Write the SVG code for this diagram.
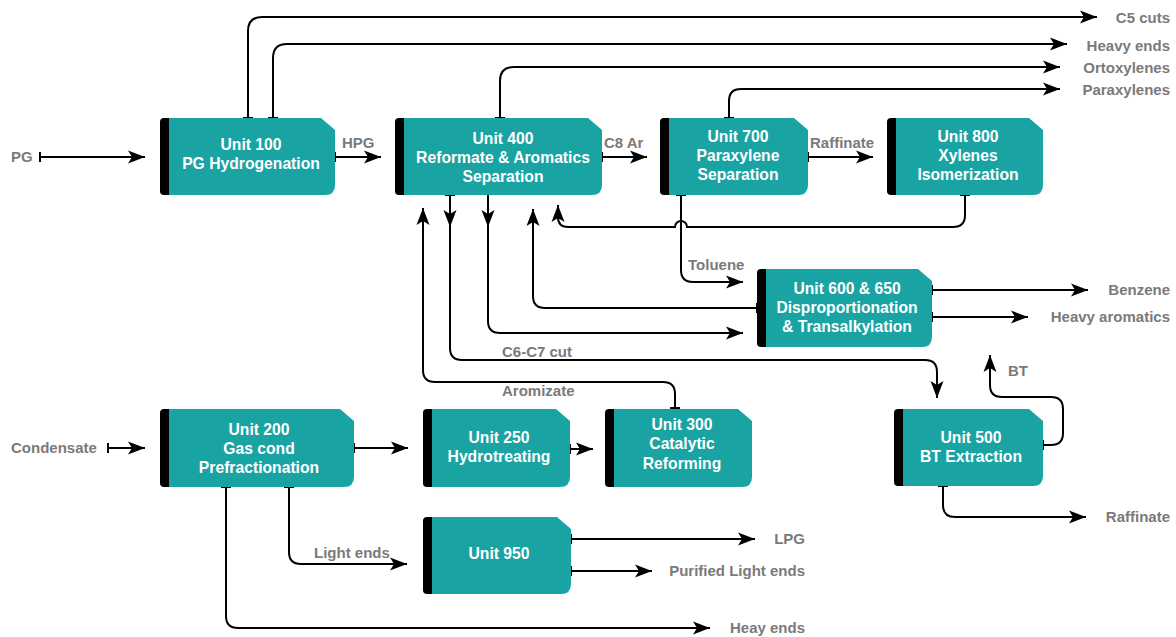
<svg xmlns="http://www.w3.org/2000/svg" width="1176" height="637" viewBox="0 0 1176 637">
<style>
.box{fill:#1aa3a3}
.bar{fill:#000}
.t{font-family:"Liberation Sans",Arial,sans-serif;font-weight:bold;font-size:15.7px;fill:#fff;text-anchor:middle}
.l{font-family:"Liberation Sans",Arial,sans-serif;font-weight:bold;font-size:15px;fill:#7a7a7a}
.e{text-anchor:end}
.c{fill:none;stroke:#000;stroke-width:2}
.a{marker-end:url(#arr)}
.s{marker-start:url(#tee)}
</style>
<defs>
<marker id="arr" markerUnits="userSpaceOnUse" markerWidth="18" markerHeight="14" refX="17" refY="7" orient="auto" viewBox="0 0 18 14">
<path d="M0,0.5 L17,7 L0,13.5 L4,7 Z" fill="#000"/>
</marker>
<marker id="tee" markerUnits="userSpaceOnUse" markerWidth="4" markerHeight="12" refX="1" refY="6" orient="auto" viewBox="0 0 4 12">
<path d="M1,1 V11" stroke="#000" stroke-width="2"/>
</marker>
</defs>

<g id="connectors">
<path class="c s a" d="M40,157 H145"/>
<path class="c s a" d="M335,157 H381"/>
<path class="c s a" d="M602,157 H647"/>
<path class="c s a" d="M808,157 H873"/>
<path class="c s a" d="M248,118 V31 Q248,17 262,17 H1097"/>
<path class="c s a" d="M273,118 V58 Q273,44 287,44 H1067"/>
<path class="c s a" d="M500,118 V81 Q500,67 514,67 H1060"/>
<path class="c s a" d="M729,118 V101 Q729,89 741,89 H1060"/>
<path class="c s a" d="M965,195 V215 Q965,227 953,227 H687 A6,6 0 0 0 675,227 H568 Q558,227 558,217 V205"/>
<path class="c s a" d="M681,195 V270 Q681,282 693,282 H743"/>
<path class="c s a" d="M757,308 H545 Q533,308 533,296 V209"/>
<path class="c a" d="M488,195 V321 Q488,333 500,333 H743"/>
<path class="c a" d="M488,200 V227"/>
<path class="c s a" d="M450,195 V348 Q450,360 462,360 H925 Q937,360 937,372 V398"/>
<path class="c a" d="M450,200 V227"/>
<path class="c s a" d="M675,408 V394 Q675,382 663,382 H435 Q423,382 423,370 V208"/>
<path class="c s a" d="M932,290 H1088"/>
<path class="c s a" d="M932,317 H1028"/>
<path class="c s a" d="M1043,445 H1051 Q1063,445 1063,433 V409 Q1063,397 1051,397 H1002 Q990,397 990,385 V355"/>
<path class="c s a" d="M943,486 V505 Q943,517 955,517 H1086"/>
<path class="c s a" d="M108,448 H145"/>
<path class="c s a" d="M354,448 H408"/>
<path class="c s a" d="M570,449 H593"/>
<path class="c s a" d="M289,487 V552 Q289,564 301,564 H407"/>
<path class="c s a" d="M226,487 V616 Q226,628 238,628 H710"/>
<path class="c s a" d="M571,539 H755"/>
<path class="c s a" d="M571,571 H652"/>
</g>

<g id="labels">
<text class="l" x="11" y="162">PG</text>
<text class="l" x="342" y="148">HPG</text>
<text class="l" x="604" y="148">C8 Ar</text>
<text class="l" x="810" y="148">Raffinate</text>
<text class="l e" x="1170" y="22.5">C5 cuts</text>
<text class="l e" x="1170" y="50.5">Heavy ends</text>
<text class="l e" x="1170" y="73">Ortoxylenes</text>
<text class="l e" x="1170" y="95">Paraxylenes</text>
<text class="l" x="688" y="270">Toluene</text>
<text class="l e" x="1170" y="295">Benzene</text>
<text class="l e" x="1170" y="322">Heavy aromatics</text>
<text class="l" x="502" y="357">C6-C7 cut</text>
<text class="l" x="1008" y="376">BT</text>
<text class="l" x="502" y="396">Aromizate</text>
<text class="l" x="11" y="453">Condensate</text>
<text class="l e" x="1170" y="522">Raffinate</text>
<text class="l e" x="805" y="544">LPG</text>
<text class="l" x="314" y="558">Light ends</text>
<text class="l e" x="805" y="576">Purified Light ends</text>
<text class="l e" x="805" y="633">Heay ends</text>
</g>

<g id="unit100">
<path class="box" d="M168,118 H321 L335,130 V185 Q335,195 325,195 H168 Q160,195 160,187 V126 Q160,118 168,118 Z"/>
<path class="bar" d="M169,118 V195 H164 Q160,195 160,191 V122 Q160,118 164,118 Z"/>
<text class="t" x="251" y="150">Unit 100</text>
<text class="t" x="251" y="168.5">PG Hydrogenation</text>
</g>

<g id="unit400">
<path class="box" d="M403,118 H588 L602,130 V185 Q602,195 592,195 H403 Q395,195 395,187 V126 Q395,118 403,118 Z"/>
<path class="bar" d="M404,118 V195 H399 Q395,195 395,191 V122 Q395,118 399,118 Z"/>
<text class="t" x="503" y="143.5">Unit 400</text>
<text class="t" x="503" y="162.5">Reformate &amp; Aromatics</text>
<text class="t" x="503" y="181.5">Separation</text>
</g>

<g id="unit700">
<path class="box" d="M668,118 H794 L808,130 V185 Q808,195 798,195 H668 Q660,195 660,187 V126 Q660,118 668,118 Z"/>
<path class="bar" d="M669,118 V195 H664 Q660,195 660,191 V122 Q660,118 664,118 Z"/>
<text class="t" x="738" y="141.5">Unit 700</text>
<text class="t" x="738" y="160.5">Paraxylene</text>
<text class="t" x="738" y="179.5">Separation</text>
</g>

<g id="unit800">
<path class="box" d="M895,118 H1029 L1043,130 V185 Q1043,195 1033,195 H895 Q887,195 887,187 V126 Q887,118 895,118 Z"/>
<path class="bar" d="M896,118 V195 H891 Q887,195 887,191 V122 Q887,118 891,118 Z"/>
<text class="t" x="968" y="141.5">Unit 800</text>
<text class="t" x="968" y="160.5">Xylenes</text>
<text class="t" x="968" y="179.5">Isomerization</text>
</g>

<g id="unit600">
<path class="box" d="M765,269 H918 L932,281 V337 Q932,347 922,347 H765 Q757,347 757,339 V277 Q757,269 765,269 Z"/>
<path class="bar" d="M766,269 V347 H761 Q757,347 757,343 V273 Q757,269 761,269 Z"/>
<text class="t" x="847" y="293.5">Unit 600 &amp; 650</text>
<text class="t" x="847" y="312.5">Disproportionation</text>
<text class="t" x="847" y="331.5">&amp; Transalkylation</text>
</g>

<g id="unit500">
<path class="box" d="M902,409 H1029 L1043,421 V476 Q1043,486 1033,486 H902 Q894,486 894,478 V417 Q894,409 902,409 Z"/>
<path class="bar" d="M903,409 V486 H898 Q894,486 894,482 V413 Q894,409 898,409 Z"/>
<text class="t" x="971" y="442.5">Unit 500</text>
<text class="t" x="971" y="461.5">BT Extraction</text>
</g>

<g id="unit200">
<path class="box" d="M168,409 H340 L354,421 V477 Q354,487 344,487 H168 Q160,487 160,479 V417 Q160,409 168,409 Z"/>
<path class="bar" d="M169,409 V487 H164 Q160,487 160,483 V413 Q160,409 164,409 Z"/>
<text class="t" x="259" y="434.5">Unit 200</text>
<text class="t" x="259" y="453.5">Gas cond</text>
<text class="t" x="259" y="472.5">Prefractionation</text>
</g>

<g id="unit250">
<path class="box" d="M431,409 H556 L570,421 V477 Q570,487 560,487 H431 Q423,487 423,479 V417 Q423,409 431,409 Z"/>
<path class="bar" d="M432,409 V487 H427 Q423,487 423,483 V413 Q423,409 427,409 Z"/>
<text class="t" x="499" y="442.5">Unit 250</text>
<text class="t" x="499" y="461.5">Hydrotreating</text>
</g>

<g id="unit300">
<path class="box" d="M613,409 H738 L752,421 V477 Q752,487 742,487 H613 Q605,487 605,479 V417 Q605,409 613,409 Z"/>
<path class="bar" d="M614,409 V487 H609 Q605,487 605,483 V413 Q605,409 609,409 Z"/>
<text class="t" x="682" y="429.5">Unit 300</text>
<text class="t" x="682" y="449">Catalytic</text>
<text class="t" x="682" y="468.5">Reforming</text>
</g>

<g id="unit950">
<path class="box" d="M431,517 H557 L571,529 V584 Q571,594 561,594 H431 Q423,594 423,586 V525 Q423,517 431,517 Z"/>
<path class="bar" d="M432,517 V594 H427 Q423,594 423,590 V521 Q423,517 427,517 Z"/>
<text class="t" x="499" y="558.5">Unit 950</text>
</g>
</svg>
